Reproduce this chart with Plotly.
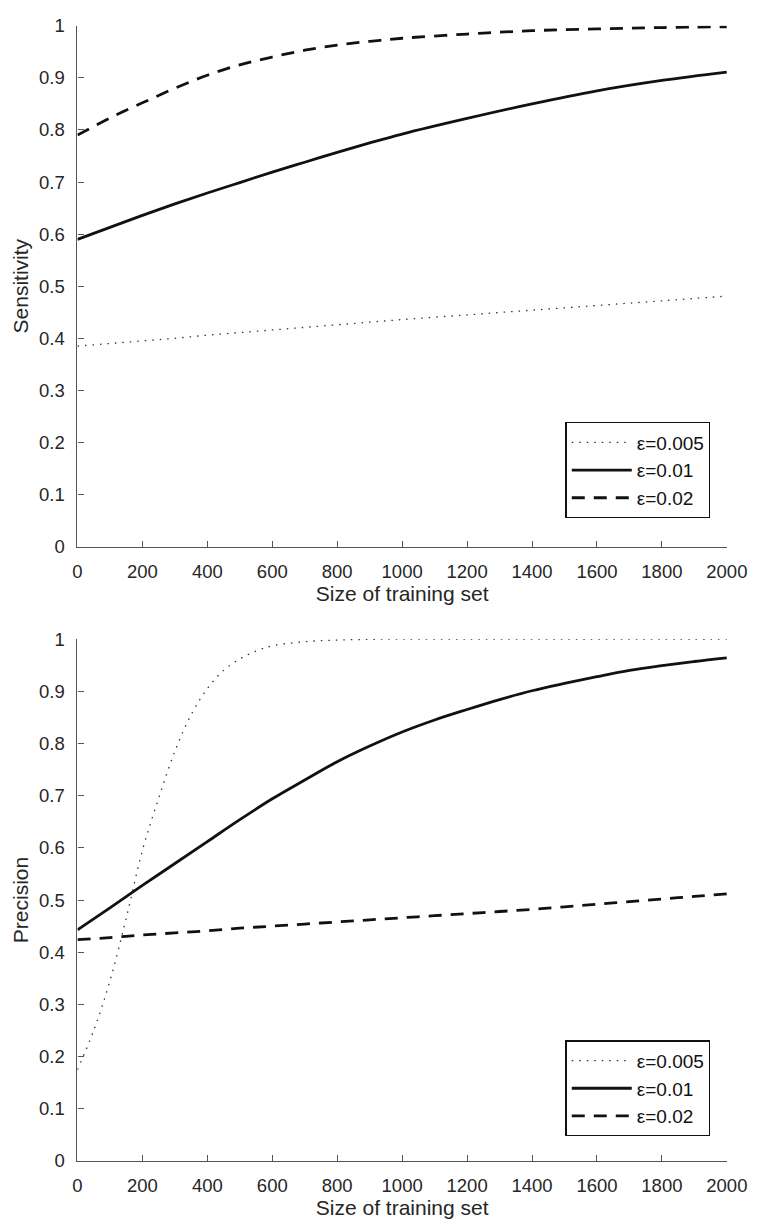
import plotly.graph_objects as go

# ---------------- data ----------------
x_sens = [0, 100, 200, 300, 400, 500, 600, 700, 800, 900, 1000, 1200, 1400, 1600, 1800, 2000]
sens_eps005 = [0.385, 0.390, 0.395, 0.400, 0.406, 0.411, 0.416, 0.421, 0.426, 0.431, 0.436,
               0.445, 0.454, 0.463, 0.472, 0.481]
sens_eps01 = [0.590, 0.613, 0.636, 0.658, 0.679, 0.699, 0.719, 0.738, 0.757, 0.775, 0.792,
              0.822, 0.850, 0.875, 0.895, 0.911]
sens_eps02 = [0.790, 0.823, 0.852, 0.880, 0.905, 0.925, 0.940, 0.953, 0.963, 0.970, 0.976,
              0.984, 0.9905, 0.994, 0.9965, 0.998]

x_prec_dot = [0, 50, 100, 150, 200, 250, 300, 350, 400, 450, 500, 550, 600, 700, 800, 900,
              1000, 1200, 1400, 1600, 1800, 2000]
prec_eps005 = [0.175, 0.250, 0.345, 0.465, 0.595, 0.695, 0.785, 0.855, 0.905, 0.940, 0.962,
               0.977, 0.987, 0.995, 0.998, 0.9995, 1.0, 1.0, 1.0, 1.0, 1.0, 1.0]
x_prec = [0, 100, 200, 300, 400, 500, 600, 700, 800, 900, 1000, 1100, 1200, 1300, 1400,
          1500, 1600, 1700, 1800, 1900, 2000]
prec_eps01 = [0.443, 0.485, 0.528, 0.570, 0.612, 0.654, 0.694, 0.730, 0.765, 0.795, 0.822,
              0.845, 0.865, 0.884, 0.901, 0.915, 0.928, 0.940, 0.949, 0.957, 0.964]
prec_eps02 = [0.424, 0.428, 0.433, 0.437, 0.441, 0.446, 0.450, 0.454, 0.458, 0.462, 0.466,
              0.470, 0.474, 0.478, 0.482, 0.487, 0.492, 0.497, 0.502, 0.507, 0.512]

series_names = ["ε=0.005", "ε=0.01", "ε=0.02"]
x_ticks = [0, 200, 400, 600, 800, 1000, 1200, 1400, 1600, 1800, 2000]
y_ticks = [0, 0.1, 0.2, 0.3, 0.4, 0.5, 0.6, 0.7, 0.8, 0.9, 1]
y_tick_text = ["0", "0.1", "0.2", "0.3", "0.4", "0.5", "0.6", "0.7", "0.8", "0.9", "1"]
x_title = "Size of training set"
y_title_top = "Sensitivity"
y_title_bottom = "Precision"

# ---------------- styles ----------------
INK = "#111111"
styles = [
    dict(color="#333333", width=1.3, dash="1.5px,6px"),
    dict(color=INK, width=2.8, dash="solid"),
    dict(color=INK, width=2.8, dash="13px,9px"),
]
FONT = "Liberation Sans, Arial, sans-serif"

fig = go.Figure()

top_series = [(x_sens, sens_eps005), (x_sens, sens_eps01), (x_sens, sens_eps02)]
bot_series = [(x_prec_dot, prec_eps005), (x_prec, prec_eps01), (x_prec, prec_eps02)]

for (xs, ys), name, st in zip(top_series, series_names, styles):
    fig.add_trace(go.Scatter(x=xs, y=ys, mode="lines", name=name, line=st,
                             line_shape="spline", xaxis="x", yaxis="y", legend="legend"))
for (xs, ys), name, st in zip(bot_series, series_names, styles):
    fig.add_trace(go.Scatter(x=xs, y=ys, mode="lines", name=name, line=st,
                             line_shape="spline", xaxis="x2", yaxis="y2", legend="legend2"))

W, H = 772, 1228
x_dom = [75 / W, 747 / W]
top_dom = [1 - 545 / H, 1 - 15 / H]
bot_dom = [1 - 1170 / H, 1 - 639 / H]

axis_common = dict(
    showline=True, linecolor="#555555", linewidth=1.2, mirror=False,
    ticks="inside", ticklen=6, tickwidth=1.2, tickcolor="#555555",
    showgrid=False, zeroline=False,
    tickfont=dict(family=FONT, size=18.5, color="#262626"),
)

xaxis_common = dict(axis_common, range=[0, 2000], tickvals=x_ticks,
                    ticktext=[str(v) for v in x_ticks], ticklabelstandoff=8,
                    title=dict(text=x_title, font=dict(family=FONT, size=21, color="#262626"),
                               standoff=4))
yaxis_common = dict(axis_common, range=[0, 1], tickvals=y_ticks, ticktext=y_tick_text,
                    ticklabelstandoff=8)

legend_common = dict(
    bgcolor="white", bordercolor="#111111", borderwidth=1.3,
    font=dict(family=FONT, size=19, color="#111111"),
    xanchor="left", yanchor="bottom", x=580 / W,
    itemwidth=60, tracegroupgap=0,
)

fig.update_layout(
    width=W, height=H,
    margin=dict(l=0, r=0, t=0, b=0),
    paper_bgcolor="white", plot_bgcolor="white",
    xaxis=dict(xaxis_common, domain=x_dom, anchor="y"),
    yaxis=dict(yaxis_common, domain=top_dom, anchor="x",
               title=dict(text=y_title_top, font=dict(family=FONT, size=21, color="#262626"),
                          standoff=4)),
    xaxis2=dict(xaxis_common, domain=x_dom, anchor="y2"),
    yaxis2=dict(yaxis_common, domain=bot_dom, anchor="x2",
                title=dict(text=y_title_bottom, font=dict(family=FONT, size=21, color="#262626"),
                           standoff=4)),
    legend=dict(legend_common, y=1 - 516 / H),
    legend2=dict(legend_common, y=1 - 1145 / H),
    showlegend=True,
)

fig.write_html("out.html")
